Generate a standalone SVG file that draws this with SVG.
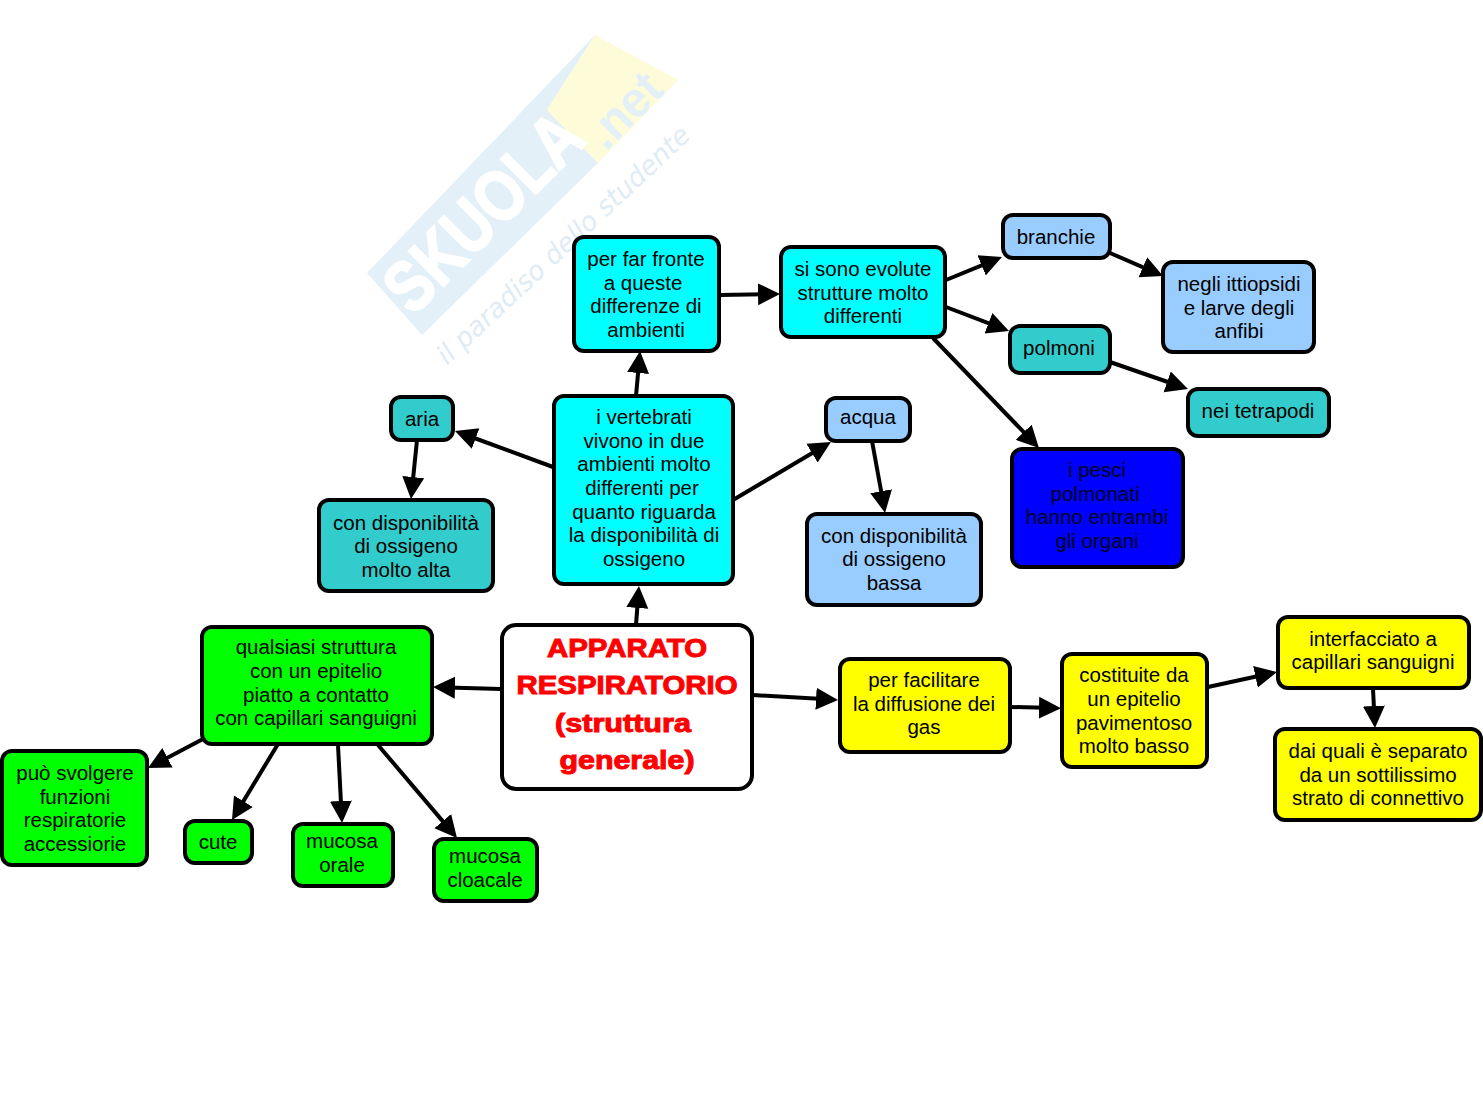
<svg xmlns="http://www.w3.org/2000/svg" width="1483" height="1116" viewBox="0 0 1483 1116">
<style>
.n{stroke:#000;stroke-width:4}
.t{font:20.5px "Liberation Sans",Arial,sans-serif;fill:#000;text-anchor:middle}
.d{fill:#000020}
.h{font:bold 26px "Liberation Sans",Arial,sans-serif;fill:#f00;stroke:#f00;stroke-width:1;text-anchor:middle}
.c line{stroke:#000;stroke-width:4;marker-end:url(#a)}
.w{font-family:"Liberation Sans",sans-serif;font-weight:bold}
</style>
<defs><marker id="a" markerUnits="userSpaceOnUse" markerWidth="26" markerHeight="24" refX="16" refY="12" orient="auto"><path d="M0 1L22 12L0 23Z"/></marker></defs>
<rect width="1483" height="1116" fill="#fff"/>
<g id="watermark">
<path d="M367 273L595 35L547 110L598 163L422 335Z" fill="#e4f0f8"/>
<path d="M595 35L678 80L598 163L547 110Z" fill="#fdfbd8"/>
<text class="w" transform="translate(413 317) rotate(-45)" font-size="72" fill="#fff" stroke="#fff" stroke-width="2" textLength="248" lengthAdjust="spacingAndGlyphs">SKUOLA</text>
<text class="w" transform="translate(606 152) rotate(-45)" font-size="50" fill="#e4f0f8" textLength="85" lengthAdjust="spacingAndGlyphs">.net</text>
<text transform="translate(447 366) rotate(-43)" font-family="DejaVu Sans,sans-serif" font-style="italic" font-size="27" fill="#dfecf5" textLength="335" lengthAdjust="spacingAndGlyphs">il paradiso dello studente</text>
</g>
<g class="c" id="connectors">
<line x1="636" y1="396" x2="639.5" y2="357"/>
<line x1="553" y1="467" x2="460.6" y2="433"/>
<line x1="417" y1="440" x2="411.6" y2="493"/>
<line x1="733" y1="500" x2="825.8" y2="445"/>
<line x1="872" y1="441" x2="884" y2="507"/>
<line x1="720" y1="295" x2="774" y2="294"/>
<line x1="946" y1="280" x2="996.4" y2="259.3"/>
<line x1="946" y1="307" x2="1003.4" y2="328.9"/>
<line x1="933" y1="338" x2="1034.8" y2="443.7"/>
<line x1="1110" y1="253" x2="1157.5" y2="273.6"/>
<line x1="1110" y1="362" x2="1182.3" y2="387"/>
<line x1="636" y1="625" x2="638.5" y2="592"/>
<line x1="501" y1="689" x2="439" y2="687.2"/>
<line x1="753" y1="695" x2="832" y2="699.6"/>
<line x1="1011" y1="707" x2="1055" y2="708"/>
<line x1="1208" y1="687" x2="1271.1" y2="673.3"/>
<line x1="1373" y1="689" x2="1374.7" y2="722"/>
<line x1="203" y1="739" x2="153.3" y2="765.2"/>
<line x1="278" y1="744" x2="235.1" y2="814.9"/>
<line x1="338" y1="745" x2="341.7" y2="817"/>
<line x1="378" y1="745" x2="453.1" y2="833.4"/>
</g>
<g id="n1"><rect class="n" x="502" y="625" width="250" height="164" rx="14" fill="#fff"/><text class="h" x="627" y="657" textLength="160" lengthAdjust="spacingAndGlyphs">APPARATO</text><text class="h" x="627" y="694" textLength="221" lengthAdjust="spacingAndGlyphs">RESPIRATORIO</text><text class="h" x="623" y="732" textLength="136" lengthAdjust="spacingAndGlyphs">(struttura</text><text class="h" x="627" y="769" textLength="135" lengthAdjust="spacingAndGlyphs">generale)</text></g>
<g id="n2"><rect class="n" x="554" y="396" width="179" height="188" rx="10" fill="#0ff"/><text class="t" x="644" y="424">i vertebrati</text><text class="t" x="644" y="448">vivono in due</text><text class="t" x="644" y="471">ambienti molto</text><text class="t" x="642" y="495">differenti per</text><text class="t" x="644" y="519">quanto riguarda</text><text class="t" x="644" y="542">la disponibilità di</text><text class="t" x="644" y="566">ossigeno</text></g>
<g id="n3"><rect class="n" x="574" y="237" width="145" height="114" rx="10" fill="#0ff"/><text class="t" x="646" y="266">per far fronte</text><text class="t" x="643" y="290">a queste</text><text class="t" x="646" y="313">differenze di</text><text class="t" x="646" y="337">ambienti</text></g>
<g id="n4"><rect class="n" x="781" y="247" width="164" height="90" rx="10" fill="#0ff"/><text class="t" x="863" y="276">si sono evolute</text><text class="t" x="863" y="300">strutture molto</text><text class="t" x="863" y="323">differenti</text></g>
<g id="n5"><rect class="n" x="1003" y="215" width="107" height="43" rx="10" fill="#9cf"/><text class="t" x="1056" y="244">branchie</text></g>
<g id="n6"><rect class="n" x="1163" y="262" width="151" height="90" rx="10" fill="#9cf"/><text class="t" x="1239" y="291">negli ittiopsidi</text><text class="t" x="1239" y="315">e larve degli</text><text class="t" x="1239" y="338">anfibi</text></g>
<g id="n7"><rect class="n" x="1010" y="326" width="100" height="47" rx="10" fill="#3cc"/><text class="t" x="1059" y="355">polmoni</text></g>
<g id="n8"><rect class="n" x="1188" y="389" width="141" height="47" rx="10" fill="#3cc"/><text class="t" x="1258" y="418">nei tetrapodi</text></g>
<g id="n9"><rect class="n" x="1012" y="449" width="171" height="118" rx="10" fill="#00f"/><text class="t d" x="1097" y="477">i pesci</text><text class="t d" x="1095" y="501">polmonati</text><text class="t d" x="1097" y="524">hanno entrambi</text><text class="t d" x="1097" y="548">gli organi</text></g>
<g id="n10"><rect class="n" x="391" y="397" width="62" height="43" rx="10" fill="#3cc"/><text class="t" x="422" y="426">aria</text></g>
<g id="n11"><rect class="n" x="319" y="500" width="174" height="91" rx="10" fill="#3cc"/><text class="t" x="406" y="530">con disponibilità</text><text class="t" x="406" y="553">di ossigeno</text><text class="t" x="406" y="577">molto alta</text></g>
<g id="n12"><rect class="n" x="826" y="398" width="84" height="43" rx="10" fill="#9cf"/><text class="t" x="868" y="424">acqua</text></g>
<g id="n13"><rect class="n" x="807" y="514" width="174" height="91" rx="10" fill="#9cf"/><text class="t" x="894" y="543">con disponibilità</text><text class="t" x="894" y="566">di ossigeno</text><text class="t" x="894" y="590">bassa</text></g>
<g id="n14"><rect class="n" x="202" y="627" width="230" height="117" rx="10" fill="#0f0"/><text class="t" x="316" y="654">qualsiasi struttura</text><text class="t" x="316" y="678">con un epitelio</text><text class="t" x="316" y="702">piatto a contatto</text><text class="t" x="316" y="725">con capillari sanguigni</text></g>
<g id="n15"><rect class="n" x="2" y="751" width="145" height="114" rx="10" fill="#0f0"/><text class="t" x="75" y="780">può svolgere</text><text class="t" x="75" y="804">funzioni</text><text class="t" x="75" y="827">respiratorie</text><text class="t" x="75" y="851">accessiorie</text></g>
<g id="n16"><rect class="n" x="185" y="821" width="67" height="42" rx="10" fill="#0f0"/><text class="t" x="218" y="849">cute</text></g>
<g id="n17"><rect class="n" x="293" y="824" width="100" height="62" rx="10" fill="#0f0"/><text class="t" x="342" y="848">mucosa</text><text class="t" x="342" y="872">orale</text></g>
<g id="n18"><rect class="n" x="434" y="839" width="103" height="62" rx="10" fill="#0f0"/><text class="t" x="485" y="863">mucosa</text><text class="t" x="485" y="887">cloacale</text></g>
<g id="n19"><rect class="n" x="840" y="659" width="170" height="93" rx="10" fill="#ff0"/><text class="t" x="924" y="687">per facilitare</text><text class="t" x="924" y="711">la diffusione dei</text><text class="t" x="924" y="734">gas</text></g>
<g id="n20"><rect class="n" x="1062" y="654" width="145" height="113" rx="10" fill="#ff0"/><text class="t" x="1134" y="682">costituite da</text><text class="t" x="1134" y="706">un epitelio</text><text class="t" x="1134" y="730">pavimentoso</text><text class="t" x="1134" y="753">molto basso</text></g>
<g id="n21"><rect class="n" x="1278" y="617" width="191" height="71" rx="10" fill="#ff0"/><text class="t" x="1373" y="646">interfacciato a</text><text class="t" x="1373" y="669">capillari sanguigni</text></g>
<g id="n22"><rect class="n" x="1275" y="729" width="206" height="91" rx="10" fill="#ff0"/><text class="t" x="1378" y="758">dai quali è separato</text><text class="t" x="1378" y="782">da un sottilissimo</text><text class="t" x="1378" y="805">strato di connettivo</text></g>
</svg>
